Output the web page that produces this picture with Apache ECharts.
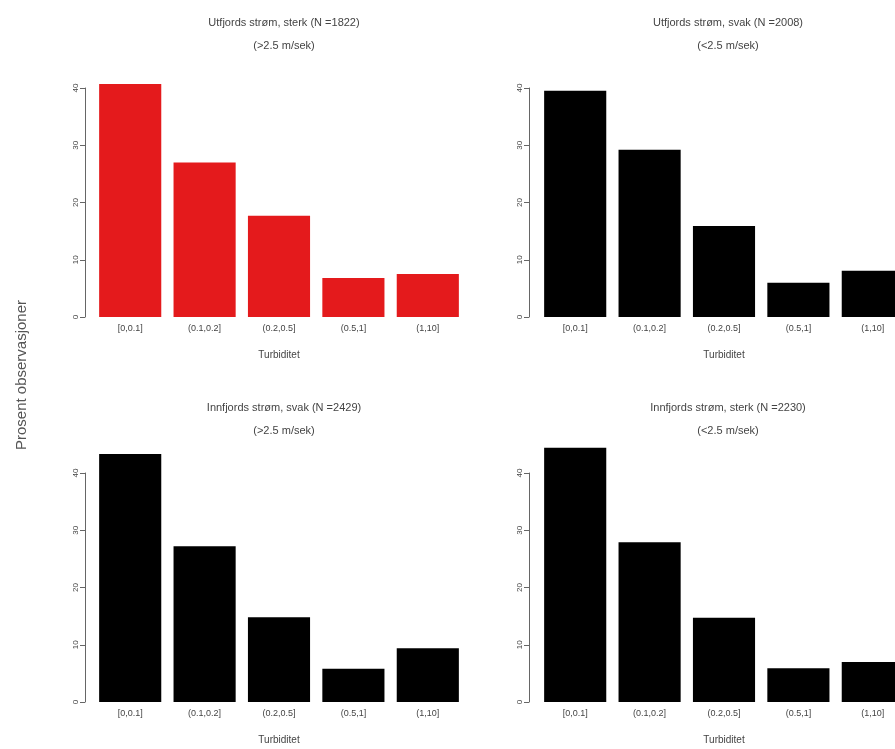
<!DOCTYPE html>
<html><head><meta charset="utf-8">
<script src="https://cdn.jsdelivr.net/npm/echarts@6/dist/echarts.min.js"></script>
<style>html,body{margin:0;padding:0;background:#fff}#c{width:895px;height:749px}</style>
</head><body><div id="c"></div>
<script>
const categories = ["[0,0.1]", "(0.1,0.2]", "(0.2,0.5]", "(0.5,1]", "(1,10]"];
const yTicks = [0, 10, 20, 30, 40];
const titles = [
  "Utfjords strøm, sterk (N =1822)\n(>2.5 m/sek)",
  "Utfjords strøm, svak (N =2008)\n(<2.5 m/sek)",
  "Innfjords strøm, svak (N =2429)\n(>2.5 m/sek)",
  "Innfjords strøm, sterk (N =2230)\n(<2.5 m/sek)"
];
const utfjordsSterk = [40.7, 27.0, 17.7, 6.8, 7.5];
const utfjordsSvak = [39.5, 29.2, 15.9, 6.0, 8.1];
const innfjordsSvak = [43.3, 27.2, 14.8, 5.8, 9.4];
const innfjordsSterk = [44.4, 27.9, 14.7, 5.9, 7.0];
const xName = "Turbiditet";
const yName = "Prosent observasjoner";

const seriesData = [utfjordsSterk, utfjordsSvak, innfjordsSvak, innfjordsSterk];
const colors = ['#e41a1c', '#000000', '#000000', '#000000'];
const grids = [
  {left: 93, top: 88, width: 372, height: 229, outerBoundsMode: 'none'},
  {left: 538, top: 88, width: 372, height: 229, outerBoundsMode: 'none'},
  {left: 93, top: 473, width: 372, height: 229, outerBoundsMode: 'none'},
  {left: 538, top: 473, width: 372, height: 229, outerBoundsMode: 'none'}
];
const titlePos = [
  {left: 279, top: 6},
  {left: 723, top: 6},
  {left: 279, top: 391},
  {left: 723, top: 391}
];
const textColor = '#444';
const chart = echarts.init(document.getElementById('c'));
const option = {
  backgroundColor: '#fff',
  animation: false,
  title: titles.map((t, i) => ({
    text: t, left: titlePos[i].left, top: titlePos[i].top, textAlign: 'center',
    textStyle: {fontSize: 11, fontWeight: 'normal', color: textColor, lineHeight: 23, fontFamily: 'Liberation Sans'}
  })),
  graphic: [{
    type: 'text', x: 22, y: 375, rotation: Math.PI / 2,
    style: {text: yName, fontSize: 15, fill: '#555', fontFamily: 'Liberation Sans', align: 'center', verticalAlign: 'middle'}
  }],
  grid: grids,
  xAxis: grids.map((g, i) => ({
    type: 'category', gridIndex: i, data: categories,
    axisLine: {show: false}, axisTick: {show: false},
    axisLabel: {fontSize: 9, color: textColor, margin: 7, interval: 0, fontFamily: 'Liberation Sans'},
    name: xName, nameLocation: 'middle', nameGap: 33,
    nameTextStyle: {fontSize: 10, color: textColor, fontFamily: 'Liberation Sans'}
  })),
  yAxis: grids.map((g, i) => ({
    type: 'value', gridIndex: i, min: 0, max: 40, interval: 10, offset: i % 2 === 0 ? 8 : 9,
    splitLine: {show: false},
    axisLine: {show: true, lineStyle: {color: '#666', width: 1}},
    axisTick: {show: true, length: 5, lineStyle: {color: '#666'}},
    axisLabel: {rotate: 90, fontSize: 8, color: textColor, margin: 5, fontFamily: 'Liberation Sans',
      formatter: v => yTicks.includes(v) ? String(v) : ''}
  })),
  series: seriesData.map((d, i) => ({
    type: 'bar', xAxisIndex: i, yAxisIndex: i, data: d, clip: false,
    barCategoryGap: '16.5%',
    itemStyle: {color: colors[i]}
  }))
};
chart.setOption(option);
</script></body></html>
